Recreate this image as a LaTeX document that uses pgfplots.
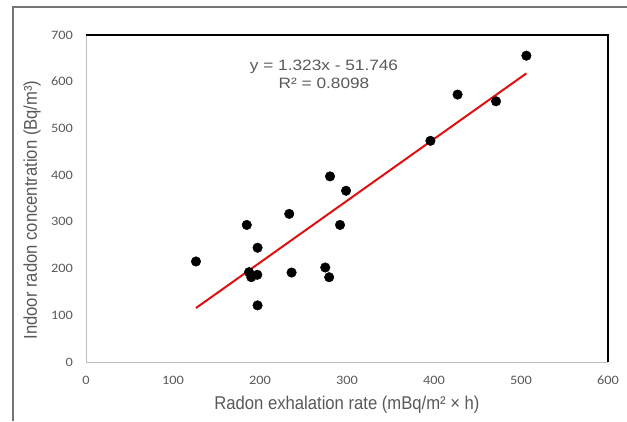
\documentclass[border=0pt]{standalone}
\usepackage{fontspec}
\setmainfont{Liberation Sans}
\newfontfamily\tickfont[FakeStretch=1.12]{Carlito}
\newfontfamily\eqfont[FakeStretch=1.15]{Liberation Sans}
\newfontfamily\labfont[FakeStretch=0.9]{Liberation Sans}
\usepackage{pgfplots}
\pgfplotsset{compat=1.18}
\definecolor{txt}{HTML}{595959}
\definecolor{axgray}{HTML}{BFBFBF}
\definecolor{frame}{HTML}{767676}
\definecolor{trend}{HTML}{E01010}

\begin{document}
\begin{tikzpicture}
\useasboundingbox (0,0) rectangle (627pt,421pt);
\draw[frame, line width=1.1pt] (13pt,0) -- (13pt,414pt) -- (627pt,414pt);
\begin{axis}[
  at={(86pt,59pt)}, anchor=south west,
  scale only axis, width=522pt, height=327pt,
  xmin=0, xmax=600, ymin=0, ymax=700,
  xtick={0,100,...,600}, ytick={0,100,...,700},
  major tick length=0pt,
  axis line style={draw=none},
  /pgf/number format/assume math mode=true,
  tick label style={font=\tickfont\fontsize{12.8}{14}\selectfont, text=txt},
  xticklabel style={inner sep=0pt, yshift=-13.5pt},
  yticklabel style={inner sep=0pt, xshift=-13pt},
  xlabel={Radon exhalation rate (mBq/m² × h)},
  ylabel={Indoor radon concentration (Bq/m³)},
  label style={font=\labfont\fontsize{18.5}{20}\selectfont, text=txt},
  xlabel style={at={(axis description cs:0.5,0)}, anchor=center, yshift=-43pt},
  ylabel style={at={([xshift=-54pt,yshift=-11.5pt]axis description cs:0,0.5)}, anchor=center},
  clip=false,
]
\draw[axgray, line width=0.9pt] (rel axis cs:0,1) -- (rel axis cs:0,0) -- (rel axis cs:1,0);
\draw[black, line width=1.1pt] (rel axis cs:0,1) -- (rel axis cs:1,1) -- (rel axis cs:1,0);

\addplot[only marks, mark=*, mark size=4.8pt, black] coordinates {
  (126.4,215.2) (184.8,293.4) (197.2,244.6) (187.4,192.3) (190.0,181.6)
  (196.9,186.7) (197.2,121.2) (233.6,317.1) (236.3,191.5) (275.0,202.3)
  (279.5,181.5) (280.5,397.4) (292.0,293.4) (298.9,366.6) (395.9,473.5)
  (427.1,572.5) (471.3,558.1) (506.2,655.7)
};
\addplot[trend, line width=2pt] coordinates {(126.4,115.5) (506.2,617.9)};

\node[font=\eqfont\fontsize{15}{16}\selectfont, text=txt, align=center] at (axis cs:273.6,616) {y = 1.323x - 51.746\\[2.5pt]R² = 0.8098};
\end{axis}
\end{tikzpicture}
\end{document}
